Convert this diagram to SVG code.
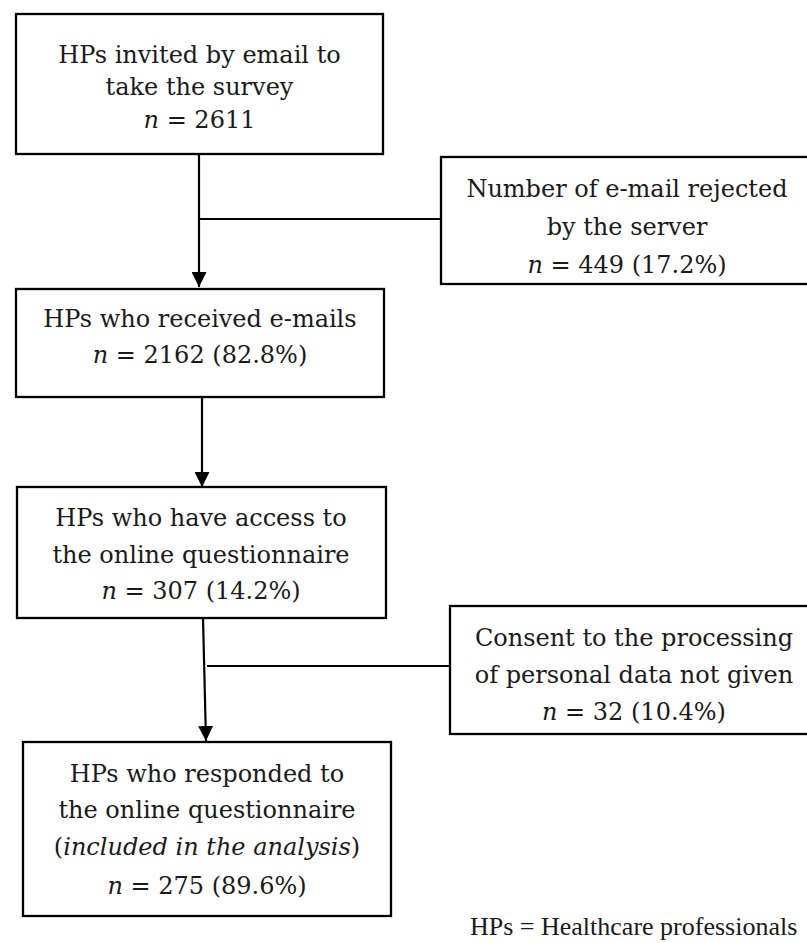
<svg xmlns="http://www.w3.org/2000/svg" width="807" height="943" viewBox="0 0 807 943">
<style>
.box{fill:#fff;stroke:#000;stroke-width:2.3}
.t{font-family:"DejaVu Serif","Liberation Serif",serif;font-size:24px;fill:#1a1a1a;text-anchor:middle}
.i{font-style:italic}
.c{stroke:#000;stroke-width:2.2;fill:none}
.fn{font-family:"Liberation Serif","DejaVu Serif",serif;font-size:26px;fill:#1a1a1a}
</style>
<defs>
<marker id="ah" markerUnits="userSpaceOnUse" markerWidth="15" markerHeight="15" refX="15" refY="7.5" orient="auto">
<path d="M0,0 L15,7.5 L0,15 z" fill="#000"/>
</marker>
</defs>
<rect width="807" height="943" fill="#fff"/>
<g id="connectors">
<line class="c" x1="199" y1="154" x2="199" y2="287" marker-end="url(#ah)"/>
<line class="c" x1="199" y1="219" x2="441" y2="219"/>
<line class="c" x1="202" y1="397" x2="202" y2="487" marker-end="url(#ah)"/>
<line class="c" x1="203" y1="618" x2="206" y2="741" marker-end="url(#ah)"/>
<line class="c" x1="207" y1="666" x2="450" y2="666"/>
</g>
<g id="invited">
<rect class="box" x="16" y="14" width="367" height="140"/>
<text class="t" x="199.5" y="63">HPs invited by email to</text>
<text class="t" x="199.5" y="95">take the survey</text>
<text class="t" x="199.5" y="128"><tspan class="i">n</tspan> = 2611</text>
</g>
<g id="rejected">
<rect class="box" x="441" y="157" width="380" height="127"/>
<text class="t" x="627" y="197">Number of e-mail rejected</text>
<text class="t" x="627" y="235">by the server</text>
<text class="t" x="627" y="273"><tspan class="i">n</tspan> = 449 (17.2%)</text>
</g>
<g id="received">
<rect class="box" x="16" y="289" width="368" height="108"/>
<text class="t" x="200" y="327">HPs who received e-mails</text>
<text class="t" x="200" y="363"><tspan class="i">n</tspan> = 2162 (82.8%)</text>
</g>
<g id="access">
<rect class="box" x="17" y="487" width="369" height="131"/>
<text class="t" x="201" y="526">HPs who have access to</text>
<text class="t" x="201" y="563">the online questionnaire</text>
<text class="t" x="201" y="599"><tspan class="i">n</tspan> = 307 (14.2%)</text>
</g>
<g id="consent">
<rect class="box" x="450" y="606" width="380" height="128"/>
<text class="t" x="634" y="646">Consent to the processing</text>
<text class="t" x="634" y="683">of personal data not given</text>
<text class="t" x="634" y="720"><tspan class="i">n</tspan> = 32 (10.4%)</text>
</g>
<g id="responded">
<rect class="box" x="23" y="742" width="368" height="174"/>
<text class="t" x="207" y="782">HPs who responded to</text>
<text class="t" x="207" y="818">the online questionnaire</text>
<text class="t" x="207" y="855">(<tspan class="i">included in the analysis</tspan>)</text>
<text class="t" x="207" y="894"><tspan class="i">n</tspan> = 275 (89.6%)</text>
</g>
<g id="footnote">
<text class="fn" x="470" y="935">HPs = Healthcare professionals</text>
</g>
</svg>
